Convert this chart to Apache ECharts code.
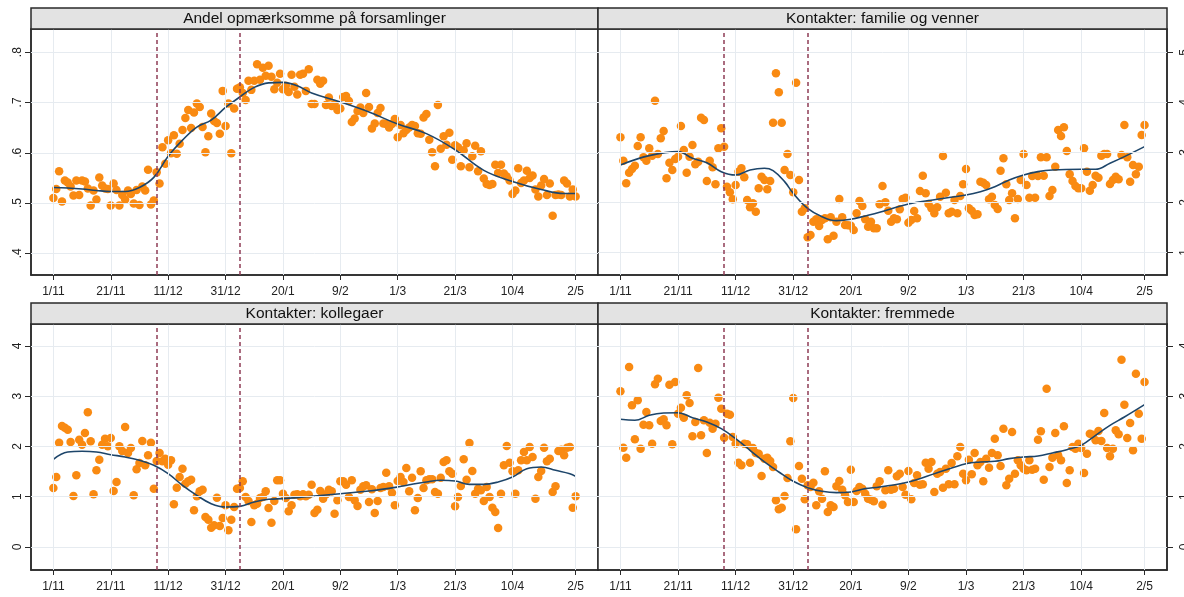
<!DOCTYPE html>
<html><head><meta charset="utf-8">
<script src="https://cdn.jsdelivr.net/npm/echarts@6/dist/echarts.min.js"></script>
<style>html,body{margin:0;padding:0;background:#fff}#c{width:1184px;height:597px}</style>
</head><body><div id="c"></div>
<script>
// ---- data ----
const tickDays = [0, 20, 40, 60, 80, 100, 120, 140, 160, 182];
const tickLabels = ['1/11', '21/11', '11/12', '31/12', '20/1', '9/2', '1/3', '21/3', '10/4', '2/5'];
const eventDays = [36, 65];
const panelTitles = ['Andel opmærksomme på forsamlinger', 'Kontakter: familie og venner', 'Kontakter: kollegaer', 'Kontakter: fremmede'];
const yTicks1 = [0.4, 0.5, 0.6, 0.7, 0.8];
const yTickLabels1 = ['.4', '.5', '.6', '.7', '.8'];
const yTicks2 = [1, 2, 3, 4, 5];
const yTicks3 = [0, 1, 2, 3, 4];
const yTicks4 = [0, 1, 2, 3, 4];

// daily values, day 0 = 1/11
const p1 = [.51,.528,.563,.503,.545,.541,.533,.515,.545,.516,
.545,.543,.529,.495,.525,.507,.551,.535,.529,.528,
.495,.539,.526,.495,.516,.507,.525,.518,.499,.526,
.496,.533,.525,.566,.497,.505,.561,.539,.611,.578,
.625,.599,.635,.598,.618,.645,.669,.685,.649,.68,
.698,.691,.651,.601,.633,.678,.663,.659,.638,.723,
.653,.698,.599,.688,.727,.73,.719,.705,.743,.725,
.743,.776,.745,.769,.753,.773,.751,.726,.739,.757,
.726,.733,.721,.755,.731,.716,
.755,.757,.723,.766,.697,.697,.745,.737,.743,.695,
.71,.693,.697,.685,.688,.711,.713,.703,.661,.668,
.683,.69,.679,.719,.691,.648,.658,.679,.689,.658,
.657,.65,.657,.667,.631,.655,.639,.645,.65,.655,
.653,.639,.638,.67,.677,.626,.601,.573,.695,.608,
.633,.616,.64,.586,.615,.611,.573,.605,.619,.571,
.593,.614,.563,.603,.549,.538,.536,.538,.576,.56,
.576,.559,.553,.545,.518,.525,.569,.54,.545,.564,
.55,.555,.527,.513,.535,.548,.516,.539,.475,.516,
.517,.516,.545,.539,.513,.527,.513];

const p2 = [3.3,2.833,2.38,2.593,2.667,2.733,3.127,3.3,2.9,2.833,
3.08,2.933,4.033,2.967,3.28,3.427,2.48,2.793,2.647,2.867,
2.913,3.527,3.047,2.593,2.913,3.147,2.76,2.813,3.693,3.647,
2.427,2.833,2.7,2.36,3.08,3.48,3.113,2.313,2.2,2.06,
2.347,2.613,2.68,2.5,2.047,1.9,1.98,1.813,2.28,2.513,
2.447,2.26,2.427,3.593,4.58,4.2,3.593,2.647,2.967,2.547,
2.2,4.393,2.447,1.813,1.88,1.3,1.347,1.613,1.66,1.527,
1.647,1.68,1.26,1.7,1.333,1.613,2.067,1.7,1.547,1.54,
1.533,1.447,1.78,2.027,1.927,1.66,1.513,1.613,1.48,1.48,
1.96,2.327,2.0,1.833,
1.613,1.68,1.66,1.86,2.067,2.093,
1.593,1.647,1.827,1.68,2.227,2.533,2.18,1.967,1.88,1.78,
1.9,2.113,2.927,2.193,1.78,1.813,2.047,1.78,2.127,2.36,
2.667,1.88,1.833,1.747,1.76,2.413,2.393,2.347,2.06,2.113,
1.947,1.867,2.633,2.88,2.36,2.047,2.18,1.68,2.067,2.447,
2.967,2.347,2.093,2.527,2.093,2.527,2.9,2.533,2.9,2.127,
2.247,2.713,3.447,3.327,3.5,3.027,2.56,2.427,2.327,2.28,
2.28,3.08,2.613,2.233,2.347,2.533,2.493,2.933,2.967,2.967,
2.367,2.447,2.513,2.46,2.947,3.547,2.9,2.413,2.747,2.56,
2.713,3.347,3.547];

const p3 = [1.174,1.393,2.076,2.408,2.375,2.335,2.09,1.015,1.426,2.136,
2.036,2.269,2.68,2.103,1.048,1.526,1.738,2.036,2.156,2.003,
2.169,1.114,1.294,2.003,1.91,2.388,1.871,1.97,1.028,1.546,
1.672,2.109,1.625,1.824,2.076,1.161,1.711,1.871,1.705,1.758,
1.638,1.725,0.849,1.181,1.393,1.559,1.26,1.307,1.34,0.73,
1.008,1.108,1.141,0.597,0.544,0.385,0.431,0.982,0.418,0.577,
0.829,0.332,0.544,0.796,1.161,1.174,1.307,0.995,0.915,0.498,
0.829,0.862,0.975,0.995,1.108,0.776,0.484,0.915,1.327,1.327,
1.061,0.975,0.71,0.829,1.041,1.05,
1.008,1.048,1.008,1.041,1.24,0.677,0.743,1.114,0.962,1.048,
1.141,1.108,0.663,0.929,1.307,1.307,1.24,0.995,1.327,0.929,
0.816,1.141,1.207,1.227,0.896,1.148,0.677,0.915,1.174,1.194,
1.479,1.207,1.081,0.829,1.313,1.393,1.294,1.572,1.108,1.38,
0.73,0.975,1.506,1.174,1.327,1.347,1.347,1.095,1.061,1.38,
1.692,1.725,1.506,1.459,0.809,0.995,1.214,1.745,1.34,2.07,
1.512,1.061,1.161,1.128,0.915,1.194,0.995,0.783,0.697,0.378,
1.061,1.625,2.01,1.678,1.506,1.061,1.526,1.725,1.891,1.725,
1.99,1.791,0.962,1.393,1.512,1.977,1.705,1.758,1.095,1.207,
1.91,1.937,1.824,1.977,1.99,0.783,1.008];

const p4 = [3.098,1.977,1.778,3.582,2.819,2.143,2.919,1.957,2.434,2.687,
2.421,2.056,3.237,3.35,2.507,2.541,2.421,3.231,2.043,3.284,
2.653,2.773,2.574,3.018,2.866,2.202,2.488,3.562,2.222,2.521,
1.871,2.474,2.355,2.454,2.972,2.753,2.176,2.653,2.634,2.189,
2.056,1.678,1.625,2.056,2.043,1.678,1.97,1.871,1.857,1.413,
1.758,1.778,1.711,1.592,0.929,0.75,0.783,1.015,1.373,2.103,
2.965,0.352,1.612,1.36,0.949,1.227,1.194,1.28,0.829,1.108,
0.962,1.506,0.697,0.829,0.796,1.207,1.313,1.141,1.028,0.896,
1.539,0.896,1.114,1.194,1.161,1.061,0.962,0.942,0.909,1.207,
1.307,0.842,1.128,1.526,
1.141,1.161,1.406,1.459,1.194,1.041,
1.512,0.949,1.274,1.426,1.24,1.247,1.678,1.559,1.692,1.095,
1.459,1.493,1.181,1.559,1.247,1.672,1.247,1.804,1.99,1.459,
1.327,1.738,1.446,1.871,1.625,1.692,1.307,1.758,1.579,1.871,
2.156,1.824,1.612,2.355,1.227,1.36,2.289,1.459,1.725,1.625,
1.559,1.526,1.725,1.539,1.559,2.136,2.302,1.34,3.151,1.592,
1.778,2.269,1.824,1.725,2.401,1.274,1.526,1.99,1.957,2.056,
1.97,1.473,1.857,2.255,2.235,2.123,2.308,2.109,2.667,1.97,
1.804,1.957,2.322,2.242,3.728,2.833,2.169,2.468,1.924,3.449,
2.653,2.156,3.284];

// smoothed trend lines
const t1x = [0,5,10,15,20,25,30,35,40,45,50,55,60,65,70,75,80,85,90,100,110,120,130,140,150,160,170,178,182];
const t1y = [.531,.530,.528,.525,.523,.523,.531,.551,.593,.625,.651,.665,.69,.711,.73,.739,.74,.733,.719,.701,.681,.657,.638,.606,.565,.543,.527,.519,.519];
const t2x = [0,10,20,25,30,35,40,45,50,53,57,60,65,70,75,80,85,90,100,110,120,125,130,135,140,145,150,160,165,170,175,182];
const t2y = [2.747,2.933,3.013,2.88,2.793,2.613,2.547,2.647,2.68,2.633,2.413,2.18,1.88,1.713,1.633,1.66,1.727,1.8,1.967,2.06,2.147,2.213,2.313,2.447,2.547,2.613,2.647,2.66,2.66,2.78,2.913,3.113];
const t3x = [0,5,10,15,20,25,30,35,40,45,50,55,60,65,70,75,80,85,90,100,110,120,125,130,135,140,145,150,155,160,165,170,175,180,182];
const t3y = [1.745,1.89,1.904,1.89,1.837,1.791,1.725,1.625,1.459,1.227,1.028,0.862,0.796,0.809,0.896,0.949,0.962,0.982,1.008,1.061,1.114,1.194,1.247,1.294,1.327,1.313,1.247,1.247,1.294,1.393,1.559,1.592,1.526,1.459,1.406];
const t4x = [0,5,10,15,20,25,30,35,40,45,50,55,60,65,70,75,80,85,90,100,110,120,125,130,135,140,145,150,155,160,165,170,175,182];
const t4y = [2.541,2.521,2.62,2.667,2.673,2.574,2.488,2.355,2.156,1.924,1.692,1.493,1.307,1.181,1.108,1.081,1.095,1.161,1.194,1.294,1.479,1.658,1.692,1.705,1.758,1.791,1.811,1.871,1.937,2.023,2.222,2.421,2.587,2.833];

// ---- layout / style ----
const FONT = 'Liberation Sans, Arial, sans-serif';
const grids = [
  {left: 31, top: 29, width: 567, height: 246},
  {left: 598, top: 29, width: 569, height: 246},
  {left: 31, top: 324, width: 567, height: 246},
  {left: 598, top: 324, width: 569, height: 246}
];
const yRanges = [[0.357, 0.846], [0.546, 5.466], [-0.458, 4.438], [-0.458, 4.438]];
const yTickSets = [yTicks1, yTicks2, yTicks3, yTicks4];
const yFmt = [v => yTickLabels1[yTicks1.indexOf(v)] ?? '', v => String(v), v => String(v), v => String(v)];
const values = [p1, p2, p3, p4];
const trends = [[t1x, t1y], [t2x, t2y], [t3x, t3y], [t4x, t4y]];
const ORANGE = '#f98a12', NAVY = '#1d456a', DASH = '#8e3d55', GRIDC = '#e6ebf0', AX = '#2a2a2a';

const option = {
  animation: false,
  backgroundColor: '#fff',
  grid: grids.map(g => Object.assign({show: true, borderColor: AX, borderWidth: 1.5, backgroundColor: '#fff', containLabel: false, outerBoundsMode: 'none'}, g)),
  xAxis: grids.map((g, i) => ({
    type: 'value', gridIndex: i, min: -7.8, max: 189.8,
    splitLine: {show: false},
    axisLine: {show: true, onZero: false, lineStyle: {color: AX, width: 1.5}},
    axisTick: {show: true, length: 5, customValues: tickDays, lineStyle: {color: AX, width: 1}},
    axisLabel: {customValues: tickDays, formatter: v => tickLabels[tickDays.indexOf(v)], color: '#222', fontSize: 12, fontFamily: FONT, margin: 11}
  })),
  yAxis: grids.map((g, i) => ({
    type: 'value', gridIndex: i, min: yRanges[i][0], max: yRanges[i][1],
    position: (i % 2 === 0) ? 'left' : 'right',
    splitLine: {show: false},
    axisLine: {show: true, onZero: false, lineStyle: {color: AX, width: 1.5}},
    axisTick: {show: true, length: 6, customValues: yTickSets[i], lineStyle: {color: AX, width: 1}},
    axisLabel: {customValues: yTickSets[i], formatter: yFmt[i], rotate: 90, color: '#222', fontSize: 12, fontFamily: FONT, margin: (i % 2 === 0) ? 7 : 12}
  })),
  graphic: [],
  series: []
};

grids.forEach((g, i) => {
  // strip with title
  option.graphic.push({
    type: 'rect', shape: {x: g.left, y: g.top - 21, width: g.width, height: 21},
    style: {fill: '#e3e3e3', stroke: AX, lineWidth: 1.5}, z: 10
  });
  option.graphic.push({
    type: 'text', x: g.left + g.width / 2, y: g.top - 10.5,
    style: {text: panelTitles[i], font: '15.5px ' + FONT, fill: '#111', align: 'center', verticalAlign: 'middle'}, z: 11
  });
  // grid lines
  option.series.push({
    type: 'line', xAxisIndex: i, yAxisIndex: i, data: [], z: 1, silent: true,
    markLine: {
      silent: true, symbol: 'none', animation: false, label: {show: false},
      lineStyle: {color: GRIDC, width: 1, type: 'solid'},
      data: tickDays.map(d => ({xAxis: d})).concat(yTickSets[i].map(v => ({yAxis: v})))
    }
  });
  // event lines
  option.series.push({
    type: 'line', xAxisIndex: i, yAxisIndex: i, data: [], z: 2, silent: true,
    markLine: {
      silent: true, symbol: 'none', animation: false, label: {show: false},
      lineStyle: {color: DASH, width: 1.5, type: [4, 3]},
      data: eventDays.map(d => ({xAxis: d}))
    }
  });
  option.series.push({
    type: 'scatter', xAxisIndex: i, yAxisIndex: i, z: 3,
    symbolSize: 8.5, itemStyle: {color: ORANGE, opacity: 1},
    data: values[i].map((v, d) => [d, v])
  });
  option.series.push({
    type: 'line', xAxisIndex: i, yAxisIndex: i, z: 4, smooth: 0.4, showSymbol: false,
    lineStyle: {color: NAVY, width: 1.6},
    data: trends[i][0].map((d, k) => [d, trends[i][1][k]])
  });
});

const chart = echarts.init(document.getElementById('c'), null, {renderer: 'canvas'});
chart.setOption(option);
</script>
</body></html>
